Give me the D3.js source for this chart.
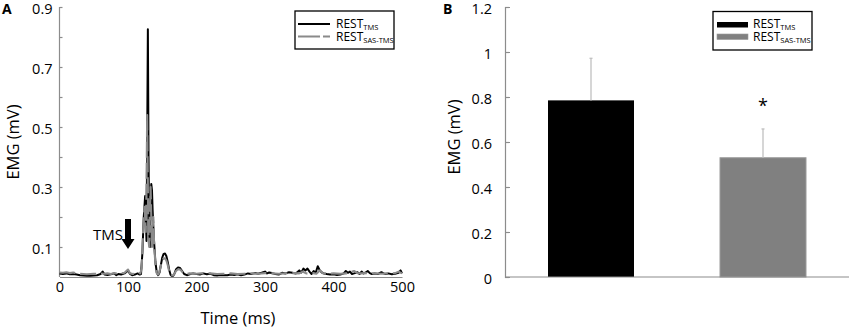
<!DOCTYPE html>
<html><head><meta charset="utf-8">
<script src="https://cdn.jsdelivr.net/npm/d3@7"></script>
<style>
body{margin:0;background:#fff;}
text{font-family:"Open Sans","Noto Sans",sans-serif;fill:#000;}
</style></head>
<body><svg id="c" width="851" height="330"></svg>
<script>
// ---------- Panel A data ----------
const seriesNames = ["REST", "REST"];
const seriesSubs = ["TMS", "SAS-TMS"];
const restTmsTime = [0,5,10,15,20,25,30,35,40,45,50,55,60,63,66,70,75,80,83,86,90,95,100,103,106,110,114,117,119,121,123,125,126,127,128,129,130,131,132,133,134,135,136,138,140,142,144,146,148,150,152,154,156,158,160,162,164,166,168,170,173,176,179,182,186,190,195,200,205,210,215,220,225,230,235,240,245,250,255,260,265,270,275,280,285,290,295,300,303,306,310,315,320,325,330,335,340,345,350,353,356,359,362,365,368,371,374,377,380,383,386,390,395,400,405,410,415,418,421,424,427,430,435,438,441,444,447,450,453,456,460,465,470,473,476,480,485,490,495,498,500];
const restTmsValue = [0.012,0.010,0.012,0.009,0.010,0.008,0.006,0.005,0.004,0.004,0.005,0.006,0.010,0.018,0.008,0.007,0.009,0.012,0.006,0.010,0.008,0.012,0.022,0.010,0.006,0.008,0.012,0.008,0.010,0.08,0.20,0.27,0.20,0.12,0.45,0.826,0.40,0.14,0.10,0.22,0.31,0.29,0.22,0.12,0.05,0.015,0.006,0.015,0.04,0.065,0.077,0.078,0.07,0.05,0.025,0.008,0.003,0.004,0.012,0.025,0.032,0.030,0.02,0.01,0.006,0.009,0.012,0.010,0.008,0.012,0.009,0.011,0.006,0.005,0.007,0.006,0.006,0.008,0.007,0.009,0.006,0.008,0.012,0.010,0.013,0.011,0.014,0.018,0.012,0.015,0.013,0.010,0.008,0.014,0.012,0.016,0.014,0.012,0.022,0.015,0.028,0.022,0.028,0.018,0.010,0.020,0.014,0.036,0.022,0.015,0.012,0.010,0.008,0.009,0.007,0.008,0.012,0.020,0.014,0.018,0.010,0.012,0.016,0.010,0.018,0.012,0.015,0.020,0.013,0.010,0.012,0.010,0.016,0.012,0.010,0.012,0.009,0.011,0.014,0.022,0.012];
const restSasTime = [0,5,10,15,20,25,30,35,40,45,50,55,60,65,70,75,80,85,90,95,100,103,107,110,115,118,120,122,124,125,126,127,128,129,130,131,132,133,134,135,136,137,138,140,142,144,146,148,150,152,154,156,158,160,162,164,166,168,170,173,176,179,182,186,190,200,210,220,230,240,250,260,270,280,290,300,310,320,330,340,350,355,360,370,375,380,385,390,400,410,420,430,435,440,450,460,470,480,490,495,500];
const restSasValue = [0.015,0.014,0.016,0.013,0.015,0.012,0.011,0.010,0.009,0.010,0.011,0.010,0.012,0.011,0.012,0.010,0.013,0.011,0.012,0.014,0.025,0.012,0.010,0.011,0.014,0.012,0.03,0.15,0.234,0.20,0.15,0.30,0.54,0.30,0.12,0.10,0.22,0.30,0.20,0.10,0.16,0.20,0.12,0.04,0.012,0.008,0.018,0.038,0.055,0.062,0.062,0.055,0.04,0.02,0.008,0.005,0.006,0.012,0.02,0.026,0.025,0.018,0.012,0.010,0.012,0.011,0.013,0.012,0.010,0.011,0.012,0.010,0.011,0.012,0.011,0.013,0.012,0.011,0.012,0.013,0.012,0.018,0.012,0.013,0.011,0.022,0.012,0.011,0.012,0.011,0.012,0.020,0.013,0.012,0.013,0.012,0.011,0.012,0.013,0.018,0.012];
const timeTicks = [0,100,200,300,400,500];
const emgTicksA = [0.1,0.2,0.3,0.4,0.5,0.6,0.7,0.8,0.9];
const emgLabelsA = [0.1,0.3,0.5,0.7,0.9];

// ---------- Panel B data ----------
const conditions = ["REST_TMS", "REST_SAS-TMS"];
const meanEmg = [0.785, 0.53];
const errEmg = [0.187, 0.128];
const emgTicksB = [0,0.2,0.4,0.6,0.8,1,1.2];

const svg = d3.select("#c");
const axisCol = "#8c8c8c";
const fmt = d => String(+d.toFixed(1));
const tickFont = "14.5px";
const titleFont = "16.5px";

// ===== Panel A =====
const xA = d3.scaleLinear().domain([0,500]).range([59.5,402]);
const yA = d3.scaleLinear().domain([0,0.9]).range([277,7]);
const gA = svg.append("g");

const yAx = gA.append("g").attr("transform","translate(59.5,0)")
  .call(d3.axisLeft(yA).tickValues(emgTicksA).tickSize(-3).tickPadding(7)
    .tickFormat(d => emgLabelsA.some(v=>Math.abs(v-d)<1e-9) ? fmt(d) : ""));
yAx.select(".domain").attr("d","M0,7V277");
const xAx = gA.append("g").attr("transform","translate(0,277)")
  .call(d3.axisBottom(xA).tickValues(timeTicks).tickSize(0).tickPadding(5));
[yAx,xAx].forEach(a=>{a.selectAll("path,line").attr("stroke",axisCol).attr("stroke-width",1.2);
  a.selectAll("text").style("font-size",tickFont).attr("fill","#000");});
yAx.selectAll("text").attr("dy","0.42em");

const lineA = d3.line().x(d=>xA(d[0])).y(d=>yA(d[1]));
const blackPts = restTmsTime.map((t,i)=>[t,restTmsValue[i]]);
const grayPts = restSasTime.map((t,i)=>[t,restSasValue[i]]);
gA.append("path").datum(blackPts).attr("d",lineA).attr("fill","none")
  .attr("stroke","#000").attr("stroke-width",2).attr("stroke-linejoin","round");
gA.append("path").datum(grayPts).attr("d",lineA).attr("fill","none")
  .attr("stroke","#8a8a8a").attr("stroke-width",2.1).attr("stroke-dasharray","16,5").attr("stroke-linejoin","round");

// TMS arrow
const ax = xA(100);
gA.append("path").attr("d",`M${ax-3},${219}H${ax+3}V${239}H${ax+6.5}L${ax},${249}L${ax-6.5},${239}H${ax-3}Z`).attr("fill","#000");
gA.append("text").attr("x",ax-5).attr("y",240).attr("text-anchor","end").style("font-size","15px").text("TMS");

// labels
gA.append("text").attr("x",238).attr("y",324).attr("text-anchor","middle").style("font-size",titleFont).text("Time (ms)");
gA.append("text").attr("transform","translate(19,142) rotate(-90)").attr("text-anchor","middle").style("font-size",titleFont).text("EMG (mV)");
gA.append("text").attr("x",2).attr("y",14).style("font-size","14px").style("font-weight","bold").text("A");

// legend A
const legA = gA.append("g");
legA.append("rect").attr("x",295).attr("y",11).attr("width",99).attr("height",38).attr("fill","#fff").attr("stroke","#000").attr("stroke-width",1.3);
legA.append("line").attr("x1",298).attr("x2",330).attr("y1",24).attr("y2",24).attr("stroke","#000").attr("stroke-width",2);
legA.append("line").attr("x1",298).attr("x2",330).attr("y1",36.5).attr("y2",36.5).attr("stroke","#8a8a8a").attr("stroke-width",2.2).attr("stroke-dasharray","22,3");
[0,1].forEach(i=>{
  const t = legA.append("text").attr("x",336).attr("y",28+i*12.5).style("font-size","12px");
  t.append("tspan").text(seriesNames[i]);
  t.append("tspan").attr("dy",2).style("font-size","7.5px").text(seriesSubs[i]);
});

// ===== Panel B =====
const xB = d3.scaleBand().domain(conditions).range([505,849]).paddingInner(0.5).paddingOuter(0.25);
const yB = d3.scaleLinear().domain([0,1.2]).range([277,7]);
const gB = svg.append("g");
const barCols = ["#000000","#808080"];

gB.selectAll("rect.bar").data(conditions).enter().append("rect")
  .attr("x",d=>xB(d)).attr("width",xB.bandwidth())
  .attr("y",(d,i)=>yB(meanEmg[i])).attr("height",(d,i)=>yB(0)-yB(meanEmg[i]))
  .attr("fill",(d,i)=>barCols[i]).attr("stroke",(d,i)=>i?"#9a9a9a":"none");
// error bars
conditions.forEach((c,i)=>{
  const cx = xB(c)+xB.bandwidth()/2;
  gB.append("line").attr("x1",cx).attr("x2",cx).attr("y1",yB(meanEmg[i])).attr("y2",yB(meanEmg[i]+errEmg[i]))
    .attr("stroke","#c0c0c0").attr("stroke-width",1.3);
  gB.append("line").attr("x1",cx-1.5).attr("x2",cx+1.5).attr("y1",yB(meanEmg[i]+errEmg[i])).attr("y2",yB(meanEmg[i]+errEmg[i]))
    .attr("stroke","#c0c0c0").attr("stroke-width",1.3);
});
gB.append("text").attr("x",xB(conditions[1])+xB.bandwidth()/2).attr("y",112).attr("text-anchor","middle").style("font-size","18px").text("*");

const yBx = gB.append("g").attr("transform","translate(505,0)")
  .call(d3.axisLeft(yB).tickValues(emgTicksB).tickSize(-5).tickPadding(13).tickFormat(fmt));
const xBx = gB.append("g").attr("transform","translate(0,277)")
  .call(d3.axisBottom(xB).tickSize(0).tickFormat(""));
xBx.select(".domain").attr("d","M505,0H849");
[yBx,xBx].forEach(a=>{a.selectAll("path,line").attr("stroke",axisCol).attr("stroke-width",1.2);
  a.selectAll("text").style("font-size",tickFont).attr("fill","#000");});
yBx.selectAll("text").attr("dy","0.42em");

gB.append("text").attr("transform","translate(460,137) rotate(-90)").attr("text-anchor","middle").style("font-size",titleFont).text("EMG (mV)");
gB.append("text").attr("x",443).attr("y",14).style("font-size","14px").style("font-weight","bold").text("B");

// legend B
const legB = gB.append("g");
legB.append("rect").attr("x",713).attr("y",11.5).attr("width",99).attr("height",38.5).attr("fill","#fff").attr("stroke","#000").attr("stroke-width",1.3);
[0,1].forEach(i=>{
  legB.append("rect").attr("x",717).attr("y",22+i*12).attr("width",31).attr("height",5.5).attr("fill",barCols[i]).attr("stroke",i?"#9a9a9a":"none").attr("stroke-width",0.6);
  const t = legB.append("text").attr("x",753).attr("y",28+i*12.5).style("font-size","12px");
  t.append("tspan").text(seriesNames[i]);
  t.append("tspan").attr("dy",2).style("font-size","7.5px").text(seriesSubs[i]);
});
</script></body></html>
